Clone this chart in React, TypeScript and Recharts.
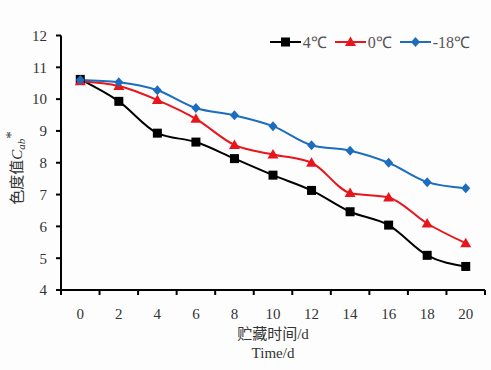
import React from 'react';
import { LineChart, Line, XAxis, YAxis, Legend } from 'recharts';

const days = ['0', '2', '4', '6', '8', '10', '12', '14', '16', '18', '20'];
const temp4 = [10.62, 9.93, 8.93, 8.65, 8.13, 7.61, 7.13, 6.46, 6.04, 5.09, 4.74];
const temp0 = [10.56, 10.41, 9.97, 9.38, 8.56, 8.26, 8.0, 7.05, 6.91, 6.09, 5.47];
const temp18 = [10.6, 10.53, 10.28, 9.72, 9.49, 9.15, 8.55, 8.38, 8.0, 7.39, 7.2];
const yTicks = [4, 5, 6, 7, 8, 9, 10, 11, 12];
const boundaryTicks = [0, 1, 2, 3, 4, 5, 6, 7, 8, 9, 10, 11];

const seriesNames = ['4℃', '0℃', '-18℃'];
const colors = ['#000000', '#e8161c', '#1c6dbe'];

const data = days.map((d, i) => ({ day: d, pos: i + 0.5, a: temp4[i], b: temp0[i], c: temp18[i] }));

const Marker = ({ kind, cx, cy, color }: any) => {
  if (cx == null || cy == null) return null;
  if (kind === 0) {
    return <rect x={cx - 4.5} y={cy - 4.5} width={9} height={9} fill={color} />;
  }
  if (kind === 1) {
    return <polygon points={`${cx},${cy - 5.5} ${cx + 5.5},${cy + 4} ${cx - 5.5},${cy + 4}`} fill={color} />;
  }
  return <polygon points={`${cx},${cy - 5} ${cx + 4.5},${cy} ${cx},${cy + 5} ${cx - 4.5},${cy}`} fill={color} />;
};

const LegendContent = () => (
  <div style={{ display: 'flex', alignItems: 'center', fontFamily: '"Liberation Serif", serif', fontSize: 16, color: '#555' }}>
    {seriesNames.map((n, i) => (
      <div key={n} style={{ display: 'flex', alignItems: 'center', marginRight: i < 2 ? 8 : 0 }}>
        <svg width={31} height={14}>
          <line x1={0} y1={7} x2={31} y2={7} stroke={colors[i]} strokeWidth={2} />
          <Marker kind={i} cx={15.5} cy={7} color={colors[i]} />
        </svg>
        <span style={{ marginLeft: 2 }}>{n}</span>
      </div>
    ))}
  </div>
);

const XLabel = (props: any) => {
  const vb = props.viewBox || {};
  const cx = vb.x + vb.width / 2;
  return (
    <g>
      <text x={cx} y={vb.y + 48} textAnchor="middle" fontFamily='"Liberation Serif", "Noto Sans CJK SC", serif' fontSize={15} fill="#333">贮藏时间/d</text>
      <text x={cx} y={vb.y + 67} textAnchor="middle" fontFamily='"Liberation Serif", serif' fontSize={15} fill="#333">Time/d</text>
    </g>
  );
};

const YLabel = () => (
  <text transform="translate(22,168) rotate(-90)" textAnchor="middle" fontFamily='"Liberation Serif", "Noto Sans CJK SC", serif' fontSize={15} fill="#333">
    色度值<tspan fontStyle="italic">C</tspan><tspan fontStyle="italic" fontSize={11} dy={3}>ab</tspan><tspan dy={-9}>*</tspan>
  </text>
);

const EmptyTick = () => <g />;

export default function App() {
  return (
    <div style={{ position: 'absolute', left: 0, top: 0, width: 491, height: 370, background: '#fdfdfd' }}>
      <LineChart width={491} height={370} data={data} margin={{ top: 13.5, right: 6, bottom: 49, left: 11 }}>
        <XAxis
          type="number"
          dataKey="pos"
          domain={[0, 11]}
          ticks={boundaryTicks}
          tick={<EmptyTick />}
          tickSize={5}
          axisLine={{ stroke: '#000', strokeWidth: 2 }}
          tickLine={{ stroke: '#000', strokeWidth: 2 }}
          height={1}
          interval={0}
        />
        <XAxis
          xAxisId="labels"
          dataKey="day"
          scale="band"
          tickLine={false}
          tickSize={0}
          tickMargin={17}
          height={30}
          axisLine={false}
          tick={{ fontFamily: '"Liberation Serif", serif', fontSize: 15, fill: '#333' }}
          interval={0}
          label={<XLabel />}
        />
        <YAxis
          domain={[4, 12]}
          ticks={yTicks}
          width={50}
          tickSize={5}
          tickMargin={9}
          axisLine={{ stroke: '#000', strokeWidth: 2 }}
          tickLine={{ stroke: '#000', strokeWidth: 2 }}
          tick={{ fontFamily: '"Liberation Serif", serif', fontSize: 15, fill: '#333' }}
          label={<YLabel />}
        />
        <Legend verticalAlign="top" align="right" content={<LegendContent />} wrapperStyle={{ top: 31, right: 21, left: 'auto', width: 'auto' }} />
        <Line dataKey="a" stroke="none" dot={false} activeDot={false} isAnimationActive={false} legendType="none" />
        {(['a', 'b', 'c'] as const).map((k, i) => (
          <Line
            key={k}
            xAxisId="labels"
            dataKey={k}
            name={seriesNames[i]}
            type="monotone"
            stroke={colors[i]}
            strokeWidth={2}
            isAnimationActive={false}
            dot={(p: any) => <Marker key={`${k}-${p.index}`} kind={i} cx={p.cx} cy={p.cy} color={colors[i]} />}
            activeDot={false}
          />
        ))}
      </LineChart>
    </div>
  );
}
